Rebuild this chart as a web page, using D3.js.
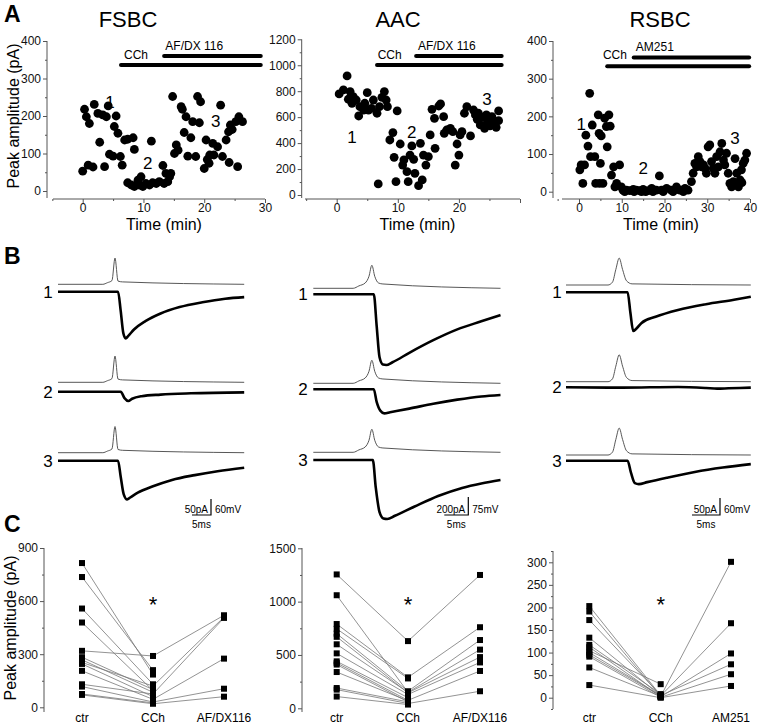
<!DOCTYPE html>
<html><head><meta charset="utf-8">
<script src="https://cdn.jsdelivr.net/npm/d3@7"></script>
<style>body{margin:0;background:#fff}svg{display:block;font-family:"Liberation Sans",Arial,sans-serif}</style>
</head><body><svg id="c" width="762" height="725"></svg>
<script>
// ---------- Panel A data: [time (min), peak amplitude (pA)] ----------
const fsbcA = [[0,53],[0.3,218],[0.6,198],[1.1,180],[0.9,69],[1.7,64],[1.9,231],[2.5,207],[2.8,130],[3.3,203],[3.6,65],[3.9,198],[4.2,227],[4.4,98],[5.0,93],[5.2,172],[5.5,200],[5.8,154],[6.2,92],[6.5,69],[6.9,136],[7.4,138],[8.3,142],[8.5,111],
 [7.4,22],[8,16],[8.5,12],[9.1,29],[9.3,16],[9.6,38],[9.9,12],[10.4,20],[11,16],[11.3,133],[11.5,22],[12.1,20],[12.6,25],[13.2,68],[13.4,20],[13.7,47],[14,25],[14.3,38],[14.5,47],
 [14.8,252],[15.1,100],[15.4,123],[15.7,109],[16.2,225],[16.4,218],[16.7,156],[17,198],[17.3,93],[17.8,142],[18.1,185],[18.6,92],[18.9,252],[19.2,182],[19.4,238],[20,60],[20.3,136],[20.5,84],[20.8,74],[20.9,96],[21.4,127],[21.6,96],[22.2,118],[22.7,229],[23,92],[23.6,136],[24,158],[24.1,76],[24.3,176],[24.6,164],[25.2,185],[25.5,65],[25.7,198],[26.3,185]];
const aacA = [[0.4,779],[1.1,810],[1.7,918],[1.9,738],[2.2,797],[2.5,707],[2.7,758],[3.2,732],[3.6,609],[3.8,681],[4.4,655],[4.6,707],[5,789],[5.2,655],[5.7,668],[6,732],[6.6,630],[7,681],[7.4,753],[7.8,797],[8.1,732],[8.3,681],[9.9,648],
 [6.8,85],[8.7,424],[9.2,481],[9.4,290],[9.7,103],[10.4,393],[10.8,231],[11,270],[11.5,180],[11.7,103],[12,308],[12.3,378],[12.6,275],[12.8,167],[13.4,72],[13.7,398],[14,116],[14.2,308],[14.6,231],[15,296],[15.3,463],[16.1,360],
 [15.6,660],[16,591],[16.7,686],[17,702],[17.5,604],[17.6,475],[18,501],[18.6,514],[19,488],[19.4,231],[19.7,393],[20,308],[20.2,463],[20.5,488],[20.9,630],[21.3,681],[21.9,455],[22.4,655],[22.7,617],[23,583],[23.2,630],[23.5,540],[23.8,599],[24.2,514],[24.5,617],[24.6,552],[24.9,591],[25.1,532],[25.4,604],[25.7,565],[26.1,522],[26.5,573],[26.5,648]];
const rsbcA = [[0.2,58],[0.5,71],[1.3,71],[0.9,22],[1.6,150],[2.1,121],[2.5,261],[2.7,93],[3.1,177],[3.7,93],[3.9,22],[4.5,204],[4.7,155],[4.8,22],[5,75],[5.2,148],[5.6,22],[6,195],[6.4,173],[6.6,119],[7,204],[7.3,174],[7.6,44],[8.1,66],[8.8,22],[9.5,71],[8.4,13],
 [9.9,13],[10.3,4],[11.1,4],[11.9,3],[12.7,6],[13.4,4],[14.2,3],[15,6],[16.2,3],[17,9],[18.1,4],[18.8,42],[19.3,4],[20.5,9],[21.6,4],[22.8,13],[23.6,4],[24.8,9],[25.5,4],[10.7,0],[12.9,0],[14.6,0],[17.3,0],[19.7,0],[22,0],[24.4,0],[15.6,0],
 [26.3,27],[26.7,49],[27.1,75],[27.5,66],[27.9,93],[28.3,80],[28.7,66],[29.1,71],[29.5,62],[29.8,49],[30.2,119],[30.6,124],[31,80],[31.4,62],[31.8,49],[32.2,93],[32.6,66],[33,106],[33.4,128],[33.8,84],[34.1,71],[34.5,102],[34.9,49],[35.3,22],[35.7,13],[36.1,27],[36.5,88],[36.9,49],[37.3,13],[37.7,31],[38,58],[38.4,75],[38.8,84],[39.2,102],[38.1,24]];
const titles = ["FSBC","AAC","RSBC"];
const aYTicks = [[0,100,200,300,400],[0,200,400,600,800,1000,1200],[0,100,200,300,400]];
const aXTicks = [[0,10,20,30],[0,10,20],[0,10,20,30,40]];
// drug bars: [label, start, end, level, label x, label level]
const barsA = [
 [["CCh",6.3,29.3,336,6.8,352],["AF/DX 116",13.4,29.3,360,13.6,376]],
 [["CCh",6.6,27,1002,6.7,1049],["AF/DX 116",13,27,1072,13.3,1118]],
 [["CCh",6.6,39.8,333,5.6,352],["AM251",12.8,39.8,356,13.3,373]]];
const numLabelsA = [[[4.5,222,"1"],[10.7,58,"2"],[21.9,170,"3"]],[[2.5,400,"1"],[12.3,440,"2"],[24.6,690,"3"]],[[0.5,165,"1"],[15,46,"2"],[36.5,126,"3"]]];

// ---------- Panel B data: keypoints [ms, pA] / [ms, mV] ----------
const fsbcV = [[0,0],[11.8,0],[13,6],[14.2,14],[15,98],[15.8,12],[17,9],[49,0]];
const fsbcI = [
 [[0,0],[15.8,0],[16.5,-60],[17.2,-130],[17.8,-146],[18.5,-138],[20,-118],[23,-92],[27,-68],[32,-48],[38,-33],[44,-22],[49,-17]],
 [[0,0],[16.5,0],[17.5,-20],[18.5,-29],[19.5,-22],[22,-14],[27,-9],[35,-5],[49,-2]],
 [[0,0],[15.8,0],[16.5,-50],[17.3,-105],[18.2,-121],[19,-115],[21,-100],[25,-80],[30,-60],[36,-45],[42,-33],[49,-22]]];
const aacV = [[0,0],[8.3,0],[9.5,10],[10.8,22],[11.6,50],[12.2,96],[12.8,50],[13.6,22],[14.5,18],[39,0]];
const aacI = [
 [[0,0],[12.6,0],[13.2,-350],[13.8,-700],[14.5,-780],[15.2,-785],[16.5,-755],[20,-650],[25,-510],[30,-390],[35,-300],[39,-230]],
 [[0,0],[12.6,0],[13.2,-140],[14,-240],[14.8,-267],[16,-255],[20,-215],[25,-160],[30,-115],[35,-80],[39,-63]],
 [[0,0],[12.4,0],[13,-300],[13.8,-580],[14.6,-650],[15.4,-656],[17,-620],[21,-520],[26,-400],[31,-310],[35,-260],[39,-222]]];
const rsbcV = [[0,0],[7.5,0],[8.3,10],[8.9,55],[9.5,95],[10.1,55],[10.8,15],[11.8,4],[33,0]];
const rsbcI = [
 [[0,0],[11,0],[11.5,-60],[12,-114],[12.5,-108],[13.5,-90],[16,-72],[20,-52],[25,-35],[30,-22],[33,-13]],
 [[0,0],[10,-1],[20,1],[25,-2],[27,-4],[29,-3],[33,-1]],
 [[0,0],[11,0],[11.6,-35],[12.3,-66],[13,-69],[14.5,-63],[18,-50],[23,-33],[28,-20],[33,-10]]];
const scaleBars = [["50pA","60mV","5ms",50,5],["200pA","75mV","5ms",200,5],["50pA","60mV","5ms",50,5]];

// ---------- Panel C data ----------
const fsCtr = [815,736,558,479,319,283,268,253,245,206,130,117,75,70];
const fsCch = [185,210,130,95,290,100,85,120,60,45,75,30,25,20];
const fsDrug = [null,null,null,null,520,null,null,510,null,275,505,105,null,60];
const aaCtr = [1255,1060,790,745,700,670,600,515,440,425,410,340,190,175,110];
const aaCch = [630,150,290,280,160,145,150,130,100,75,60,70,60,45,35];
const aaDrug = [1250,null,760,null,640,480,550,430,null,350,null,null,null,160,null];
const rsCtr = [203,191,172,133,117,112,104,100,95,91,67,28];
const rsCch = [5,3,6,4,8,2,30,5,4,1,3,0];
const rsDrug = [null,301,null,165,null,98,null,74,null,52,null,26];
const catsC = [["ctr","CCh","AF/DX116"],["ctr","CCh","AF/DX116"],["ctr","CCh","AM251"]];
const cYTicks = [[0,300,600,900],[0,500,1000,1500],[0,50,100,150,200,250,300]];

const svg = d3.select("#c");
const AX = "#555";
const fmt = d3.format("d");
function styleAxis(g){g.selectAll("path,line").attr("stroke",AX);g.selectAll("text").attr("fill","#111").attr("font-size",12);}

// Panel letters and titles
[["A",4,22],["B",4,264],["C",4,532]].forEach(([t,x,y])=>svg.append("text").attr("x",x).attr("y",y).attr("font-size",23).attr("font-weight","bold").text(t));
[[128,"FSBC"],[398,"AAC"],[660,"RSBC"]].forEach(([x,t])=>svg.append("text").attr("x",x).attr("y",27).attr("text-anchor","middle").attr("font-size",22).text(t));
[[19,116],[16,628]].forEach(([x,cy])=>svg.append("text").attr("transform",`translate(${x},${cy}) rotate(-90)`).attr("text-anchor","middle").attr("font-size",16).text("Peak amplitude (pA)"));

// ---------- Panel A ----------
const aCfg = [
 {data:fsbcA,xd:[0,30],xr:[82.7,265],xAx:[53,265],yd:[0,400],yr:[191,41],yAxX:47,minorY:50,xmax:30},
 {data:aacA,xd:[0,30],xr:[336.7,520],xAx:[305,520],yd:[0,1200],yr:[195,39.3],yAxX:301.7,minorY:100,xmax:30},
 {data:rsbcA,xd:[0,40],xr:[579,750],xAx:[562,750],yd:[0,400],yr:[191.7,41],yAxX:553,minorY:50,xmax:40}];
aCfg.forEach((c,i)=>{
  const x=d3.scaleLinear().domain(c.xd).range(c.xr), y=d3.scaleLinear().domain(c.yd).range(c.yr);
  const g=svg.append("g");
  const ya=g.append("g").attr("transform",`translate(${c.yAxX},0)`).call(d3.axisLeft(y).tickValues(aYTicks[i]).tickFormat(fmt).tickSize(4).tickSizeOuter(0).tickPadding(2));
  ya.select(".domain").attr("d",`M0,${c.yr[1]}V198`);
  g.append("g").attr("transform",`translate(${c.yAxX},0)`).call(d3.axisLeft(y).tickValues(d3.range(c.yd[0]+c.minorY,c.yd[1],c.minorY*2)).tickSize(2).tickFormat("")).select(".domain").remove();
  styleAxis(ya); g.selectAll("line").attr("stroke",AX);
  const xa=g.append("g").attr("transform","translate(0,199)").call(d3.axisBottom(x).tickValues(aXTicks[i]).tickSize(4).tickPadding(0));
  xa.select(".domain").attr("d",`M${c.xAx[0]},0H${c.xAx[1]}`);
  g.append("g").attr("transform","translate(0,199)").call(d3.axisBottom(x).tickValues(d3.range(-5,c.xmax+0.1,5).filter(v=>v%10!==0)).tickSize(2).tickFormat("")).select(".domain").remove();
  if(i===1) g.append("g").attr("transform","translate(0,199)").call(d3.axisBottom(x).tickValues([30]).tickSize(4).tickFormat("")).select(".domain").remove();
  styleAxis(xa); g.selectAll("line").attr("stroke",AX);
  g.append("text").attr("x",(c.xAx[0]+c.xAx[1])/2+5).attr("y",230).attr("text-anchor","middle").attr("font-size",16).text("Time (min)");
  g.selectAll("circle").data(c.data).join("circle").attr("cx",d=>x(d[0])).attr("cy",d=>y(d[1])).attr("r",4.4).attr("fill","#000");
  barsA[i].forEach(([lab,s,e,lev,lx,ly])=>{
    g.append("line").attr("x1",x(s)).attr("x2",x(e)).attr("y1",y(lev)).attr("y2",y(lev)).attr("stroke","#000").attr("stroke-width",4).attr("stroke-linecap","round");
    g.append("text").attr("x",x(lx)).attr("y",y(ly)).attr("font-size",12).text(lab);
  });
  numLabelsA[i].forEach(([t,v,s])=>g.append("text").attr("x",x(t)).attr("y",y(v)).attr("text-anchor","middle").attr("font-size",17).text(s));
});

// ---------- Panel B ----------
const bCfg = [
 {V:fsbcV,I:fsbcI,x0:58,pxms:3.8,pxpA:0.32,pxmV:0.267,vb:[284.3,382.3,452.7],ib:[291.7,391.7,460.7],lx:48,sbx:211},
 {V:aacV,I:aacI,x0:313.3,pxms:4.8,pxpA:0.09,pxmV:0.24,vb:[288.3,383.3,452.3],ib:[294.3,389.3,460],lx:303,sbx:468.3},
 {V:rsbcV,I:rsbcI,x0:566,pxms:5.6,pxpA:0.34,pxmV:0.283,vb:[285,381.7,455],ib:[292.3,387.3,460.7],lx:557,sbx:720}];
bCfg.forEach((c,i)=>{
  const g=svg.append("g");
  const tmax=c.V[c.V.length-1][0];
  const x=d3.scaleLinear().domain([0,tmax]).range([c.x0,c.x0+tmax*c.pxms]);
  [0,1,2].forEach(r=>{
    const yv=d3.scaleLinear().domain([0,100]).range([c.vb[r],c.vb[r]-100*c.pxmV]);
    const yi=d3.scaleLinear().domain([0,-100]).range([c.ib[r],c.ib[r]+100*c.pxpA]);
    g.append("path").attr("d",d3.line().x(d=>x(d[0])).y(d=>yv(d[1])).curve(d3.curveMonotoneX)(c.V)).attr("fill","none").attr("stroke","#444").attr("stroke-width",0.9);
    g.append("path").attr("d",d3.line().x(d=>x(d[0])).y(d=>yi(d[1])).curve(d3.curveMonotoneX)(c.I[r])).attr("fill","none").attr("stroke","#000").attr("stroke-width",2.6);
    g.append("text").attr("x",c.lx).attr("y",c.ib[r]+6).attr("text-anchor","middle").attr("font-size",17).text(String(r+1));
  });
  const [pa,mv,ms,pav,msv]=scaleBars[i];
  const h=pav*c.pxpA, w=msv*c.pxms, X=c.sbx, Y=515;
  g.append("path").attr("d",`M${X-w},${Y}H${X}V${Y-h}`).attr("fill","none").attr("stroke","#000").attr("stroke-width",1.2);
  g.append("text").attr("x",X-3).attr("y",Y-2).attr("text-anchor","end").attr("font-size",10).text(pa);
  g.append("text").attr("x",X+4).attr("y",Y-2).attr("font-size",10).text(mv);
  g.append("text").attr("x",X-w/2).attr("y",Y+13).attr("text-anchor","middle").attr("font-size",10).text(ms);
});

// ---------- Panel C ----------
const cCfg = [
 {ctr:fsCtr,cch:fsCch,drug:fsDrug,yd:[0,900],yr:[707.3,548],ax:44,xs:[82,153,224],minor:150,bot:712},
 {ctr:aaCtr,cch:aaCch,drug:aaDrug,yd:[0,1500],yr:[708.3,548.3],ax:302,xs:[336.7,408,480],minor:250,bot:712},
 {ctr:rsCtr,cch:rsCch,drug:rsDrug,yd:[0,300],yr:[697.7,562.3],ax:553,xs:[589.3,660.7,731],minor:25,bot:709}];
cCfg.forEach((c,i)=>{
  const g=svg.append("g");
  const y=d3.scaleLinear().domain(c.yd).range(c.yr);
  const ya=g.append("g").attr("transform",`translate(${c.ax},0)`).call(d3.axisLeft(y).tickValues(cYTicks[i]).tickFormat(fmt).tickSize(4).tickPadding(2));
  ya.select(".domain").attr("d",`M0,${i===2?551:548}V${c.bot}`);
  const minors=d3.range(c.yd[0]-(i===2?c.minor:0),c.yd[1]+(i===2?c.minor:0)+0.1,c.minor).filter(v=>!cYTicks[i].includes(v));
  g.append("g").attr("transform",`translate(${c.ax},0)`).call(d3.axisLeft(y).tickValues(minors).tickSize(2).tickFormat("")).select(".domain").remove();
  styleAxis(ya); g.selectAll("line").attr("stroke",AX);
  c.ctr.forEach((v,k)=>{
    g.append("line").attr("x1",c.xs[0]).attr("y1",y(v)).attr("x2",c.xs[1]).attr("y2",y(c.cch[k])).attr("stroke","#777").attr("stroke-width",0.8);
    if(c.drug[k]!=null) g.append("line").attr("x1",c.xs[1]).attr("y1",y(c.cch[k])).attr("x2",c.xs[2]).attr("y2",y(c.drug[k])).attr("stroke","#777").attr("stroke-width",0.8);
  });
  const sq=(xx,v)=>g.append("rect").attr("x",xx-3).attr("y",y(v)-3).attr("width",6).attr("height",6).attr("fill","#000");
  c.ctr.forEach(v=>sq(c.xs[0],v)); c.cch.forEach(v=>sq(c.xs[1],v)); c.drug.forEach(v=>{if(v!=null)sq(c.xs[2],v);});
  catsC[i].forEach((t,k)=>g.append("text").attr("x",c.xs[k]).attr("y",722).attr("text-anchor","middle").attr("font-size",12).text(t));
  g.append("text").attr("x",c.xs[1]).attr("y",612).attr("text-anchor","middle").attr("font-size",22).text("*");
});
</script></body></html>
